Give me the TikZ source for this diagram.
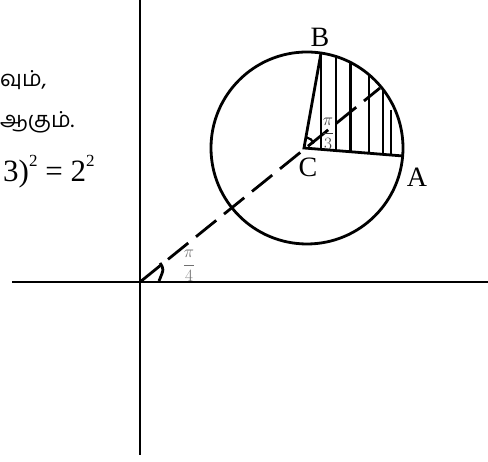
\documentclass[tikz,border=0pt]{standalone}
\usepackage{fontspec}
\setmainfont{Liberation Serif}
\newfontfamily\tamilfont[Script=Tamil]{Hind Madurai}
\usepackage{tikz}
\usetikzlibrary{calc}
\definecolor{PiGray}{HTML}{707070}
\definecolor{PiDark}{HTML}{3A3A3A}
\newcommand{\supnum}[1]{\raisebox{0.5em}{\fontsize{17}{17}\selectfont #1}}

\begin{document}
\begin{tikzpicture}[x=1pt,y=1pt,
  ax/.style={line width=2.8pt},
  geo/.style={line width=2.8pt},
  hatch/.style={line width=2.6pt},
  dsh/.style={line width=2.8pt,dash pattern=on 26pt off 10pt},
  lbl/.style={font=\fontsize{28}{28}\selectfont,inner sep=0pt},
  ang/.style={font=\fontsize{16}{16}\selectfont,inner sep=0pt},
  txt/.style={font=\fontsize{22}{26}\selectfont\tamilfont,inner sep=0pt,anchor=base west}
]
\useasboundingbox (0,0) rectangle (488,462);
\coordinate (yT) at (140,462);
\coordinate (yB) at (140,7);
\coordinate (xL) at (12,180);
\coordinate (xR) at (488,180);
\coordinate (O) at (140,180);
\coordinate (M) at (307,314);
\coordinate (C) at (304,314);
\coordinate (A) at (403,306);
\coordinate (B) at (321,409);
\coordinate (D) at (380,374);
\coordinate (hk) at (160,199);
\coordinate (hkend) at (159,181);
% axes
\draw[ax] (yT) -- (yB);
\draw[ax] (xL) -- (xR);
% circle and sector
\draw[geo] (M) circle[radius=96];
\draw[geo] (B) -- (C) -- (A);
\foreach \hx in {321,336,350.5,369,383}{
  \draw[hatch] (\hx,{314+sqrt(9216-(\hx-307)^2)}) -- (\hx,{314-(\hx-304)*8/99});
}
\draw[hatch] (391,352) -- (391,307);
% line through the centre
\draw[dsh] (O) -- (D);
\draw[geo] (hk) .. controls (164,193) .. (hkend);
\draw[geo,line width=2.2pt] ([shift={(78:11)}]C) arc[start angle=78,end angle=25,radius=11];
% labels
\node[lbl] (lB) at (320,425) {B};
\node[lbl] (lC) at (308,295) {C};
\node[lbl] (lA) at (417,285) {A};
\node[ang,text=PiDark] (aC) at (328,328) {$\displaystyle\frac{\pi}{3}$};
\node[ang,text=PiGray] (aO) at (189,196) {$\displaystyle\frac{\pi}{4}$};
% text on the left
\node[txt] (t1) at (0,375) {வும்,};
\node[txt] (t2) at (0,334) {ஆகும்.};
\node[txt,font=\fontsize{31}{31}\selectfont] (t3) at (3,280) {3)\supnum{2} = 2\supnum{2}};
\end{tikzpicture}
\end{document}
